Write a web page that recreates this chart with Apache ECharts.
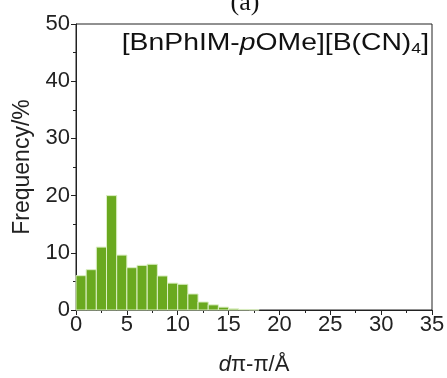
<!DOCTYPE html>
<html>
<head>
<meta charset="utf-8">
<script src="https://cdn.jsdelivr.net/npm/echarts@6/dist/echarts.min.js"></script>
<style>
  html, body { margin: 0; padding: 0; background: #fff; }
  #chart { width: 447px; height: 378px; }
</style>
</head>
<body>
<div id="chart"></div>
<script>
// Histogram of pi-pi stacking distances, 1 Å bins
const binStarts = [0, 1, 2, 3, 4, 5, 6, 7, 8, 9, 10, 11, 12, 13, 14, 15, 16, 17];
const frequency = [6.0, 7.05, 11.0, 20.0, 9.6, 7.4, 7.8, 8.0, 5.95, 4.7, 4.5, 2.8, 1.4, 0.9, 0.5, 0.2, 0.1, 0.05];
const binWidth = 1;
const xTicks = [0, 5, 10, 15, 20, 25, 30, 35];
const yTicks = [0, 10, 20, 30, 40, 50];

const bins = binStarts.map((s, i) => [s, s + binWidth, frequency[i]]);

const chart = echarts.init(document.getElementById('chart'), null, { renderer: 'canvas' });

const axisColor = '#222';
const font = 'Liberation Sans, Arial, sans-serif';

chart.setOption({
  animation: false,
  grid: {
    left: 76, right: 15, top: 24, bottom: 68,
    outerBoundsMode: 'none',
    containLabel: false,
    show: true, borderColor: axisColor, borderWidth: 1, backgroundColor: 'transparent'
  },
  xAxis: {
    type: 'value',
    min: xTicks[0], max: xTicks[xTicks.length - 1], interval: 5,
    name: '{i|d}{n|π-π/Å}',
    nameLocation: 'middle', nameGap: 44,
    nameTextStyle: {
      rich: {
        i: { fontFamily: font, fontSize: 22, fontStyle: 'italic', color: axisColor },
        n: { fontFamily: font, fontSize: 22, color: axisColor }
      }
    },
    axisLine: { lineStyle: { color: axisColor, width: 1 } },
    axisTick: { show: true, inside: false, length: 5, lineStyle: { color: axisColor } },
    minorTick: { show: true, splitNumber: 2, length: 3, lineStyle: { color: axisColor } },
    axisLabel: { fontFamily: font, fontSize: 22, color: axisColor, margin: 4 },
    splitLine: { show: false }
  },
  yAxis: {
    type: 'value',
    min: yTicks[0], max: yTicks[yTicks.length - 1], interval: 10,
    name: 'Frequency/%',
    nameLocation: 'middle', nameGap: 41,
    nameTextStyle: { fontFamily: font, fontSize: 23, color: axisColor },
    axisLine: { show: true, lineStyle: { color: axisColor, width: 1 } },
    axisTick: { show: true, inside: false, length: 5, lineStyle: { color: axisColor } },
    minorTick: { show: true, splitNumber: 2, length: 3, lineStyle: { color: axisColor } },
    axisLabel: { fontFamily: font, fontSize: 22, color: axisColor, margin: 6 },
    splitLine: { show: false }
  },
  graphic: [
    {
      type: 'text',
      x: 245, y: 3,
      style: {
        text: '(a)',
        font: '26px "Liberation Serif", "Times New Roman", serif',
        fill: '#111',
        align: 'center',
        verticalAlign: 'middle'
      }
    },
    {
      type: 'text',
      x: 429, y: 43,
      scaleX: 1.18,
      style: {
        text: '{n|[BnPhIM-}{i|p}{n|OMe][B(CN)}{s|4}{n|]}',
        align: 'right',
        verticalAlign: 'middle',
        rich: {
          n: { fontFamily: font, fontSize: 24, fill: '#111' },
          i: { fontFamily: font, fontSize: 24, fontStyle: 'italic', fill: '#111' },
          s: { fontFamily: font, fontSize: 15, fill: '#111', padding: [12, 0, 0, 0] }
        }
      }
    }
  ],
  series: [{
    type: 'custom',
    data: bins,
    encode: { x: [0, 1], y: 2 },
    renderItem: function (params, api) {
      const p0 = api.coord([api.value(0), 0]);
      const p1 = api.coord([api.value(1), api.value(2)]);
      return {
        type: 'rect',
        shape: { x: p0[0], y: p1[1], width: p1[0] - p0[0], height: p0[1] - p1[1] },
        style: { fill: '#6aa91f', stroke: '#dcefc4', lineWidth: 1 }
      };
    }
  }]
});
</script>
</body>
</html>
